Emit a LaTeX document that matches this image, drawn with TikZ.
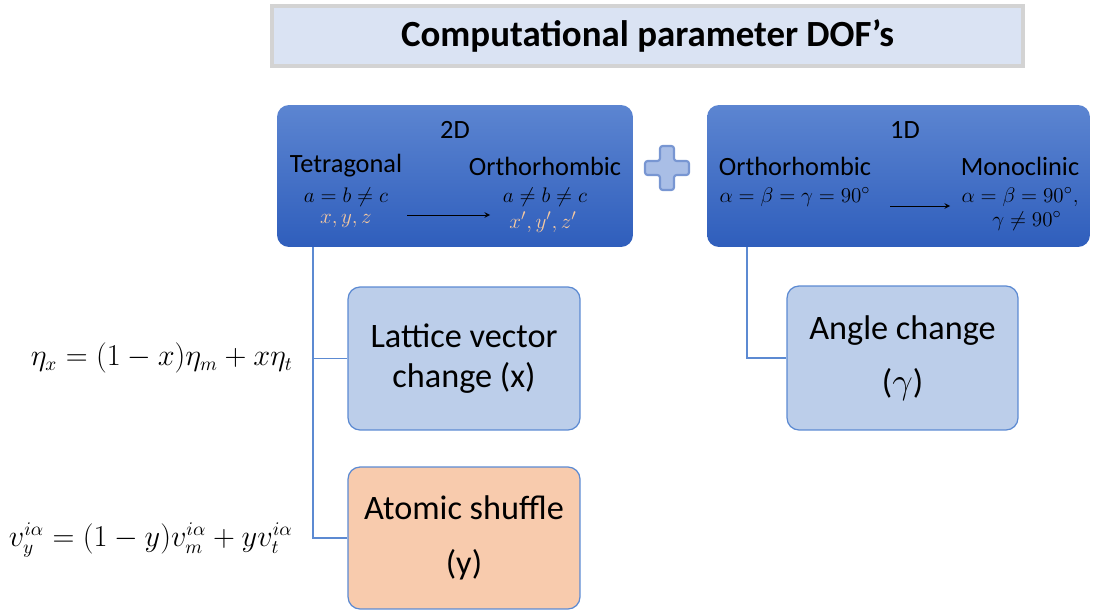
\documentclass[tikz,border=0pt]{standalone}
\usepackage{amsmath}
\usepackage{amssymb}
\usepackage{fontspec}
\setmainfont{Carlito}
\usetikzlibrary{positioning}

\definecolor{titlefill}{HTML}{DAE3F3}
\definecolor{titleline}{HTML}{D3D3D3}
\definecolor{darktop}{HTML}{5C85D1}
\definecolor{darkbot}{HTML}{2F5EBC}
\definecolor{lightfill}{HTML}{BCCEEA}
\definecolor{boxline}{HTML}{5C8AD2}
\definecolor{peach}{HTML}{F8CBAD}
\definecolor{peachtext}{HTML}{F6C9A0}
\definecolor{plusfill}{HTML}{A9BEE6}
\definecolor{plusline}{HTML}{7896D2}

\begin{document}
\begin{tikzpicture}[x=0.02cm, y=-0.02cm, every node/.style={align=center}, >=stealth]
    % styles
    \tikzstyle{title} = [rectangle, draw=titleline, line width=2.2pt, fill=titlefill, minimum width=15.02cm, minimum height=1.2cm, font=\bfseries\fontsize{21}{25}\selectfont]
    \tikzstyle{group} = [rectangle, rounded corners=0.24cm, top color=darktop, bottom color=darkbot, draw=none, minimum height=2.84cm]
    \tikzstyle{head} = [font=\fontsize{15}{18}\selectfont]
    \tikzstyle{relation} = [font=\fontsize{12.5}{15}\selectfont]
    \tikzstyle{dof} = [rectangle, rounded corners=0.24cm, draw=boxline, line width=0.7pt, fill=lightfill, minimum width=4.64cm, minimum height=2.86cm, font=\fontsize{19.5}{23}\selectfont]
    \tikzstyle{formula} = [anchor=east, inner sep=0pt, font=\fontsize{16}{19}\selectfont]
    \tikzstyle{arrow} = [thin, ->]
    \tikzstyle{link} = [draw=boxline, line width=0.6pt]

    \useasboundingbox (0,0) rectangle (1094,611);

    % title
    \node[title] (dofs) at (647.5,36) {Computational parameter DOF's};

    % 2D transformation
    \node[group, minimum width=7.12cm] (twod) at (455,176) {};
    \node[head] (twodlabel) at (455,130) {2D};
    \node[head] (tetra) at (346,166) {Tetragonal};
    \node[head] (orthoA) at (545,166) {Orthorhombic};
    \node[relation] (tetraeq) at (346,197) {$a=b\neq c$};
    \node[relation, text=peachtext] (tetraxyz) at (346,221) {$x,y,z$};
    \node[relation] (orthoAeq) at (545,197) {$a\neq b\neq c$};
    \node[relation, text=peachtext] (orthoAxyz) at (543,222) {$x',y',z'$};
    \coordinate (twostart) at (407,215);
    \coordinate (twoend) at (490,215);
    \draw[arrow] (twostart) -- (twoend);

    % plus sign
    \draw[fill=plusfill, draw=plusline, line width=1.2pt, rounded corners=1.5pt]
        (660,146) -- (674,146) -- (674,161) -- (689,161) -- (689,175) -- (674,175)
        -- (674,190) -- (660,190) -- (660,175) -- (645,175) -- (645,161) -- (660,161) -- cycle;

    % 1D transformation
    \node[group, minimum width=7.66cm] (oned) at (898.5,176) {};
    \node[head] (onedlabel) at (905,130) {1D};
    \node[head] (orthoB) at (795,166) {Orthorhombic};
    \node[head] (mono) at (1020,166) {Monoclinic};
    \node[relation] (orthoBeq) at (795,197) {$\alpha=\beta=\gamma=90^\circ$};
    \node[relation] (monoeq) at (1020,197) {$\alpha=\beta=90^\circ,$};
    \node[relation] (monoeqb) at (1027,221) {$\gamma\neq 90^\circ$};
    \coordinate (onestart) at (890,206);
    \coordinate (oneend) at (950,206);
    \draw[arrow] (onestart) -- (oneend);

    % degrees of freedom
    \node[dof] (lattice) at (464,358.5) {Lattice vector\\change (x)};
    \node[dof, fill=peach, minimum height=2.84cm] (shuffle) at (464,538) {Atomic shuffle\\[8pt](y)};
    \node[dof, minimum width=4.62cm, minimum height=2.88cm] (angle) at (902.5,358) {Angle change\\[8pt]($\gamma$)};

    % formulas
    \node[formula] (etax) at (293,358) {$\eta_x=(1-x)\eta_m+x\eta_t$};
    \node[formula] (vy) at (293,540) {$v_y^{i\alpha}=(1-y)v_m^{i\alpha}+yv_t^{i\alpha}$};

    % connectors
    \coordinate (twotrunk) at (313,247);
    \coordinate (onetrunk) at (747,247);
    \draw[link] (twotrunk) |- (lattice.west);
    \draw[link] (twotrunk) |- (shuffle.west);
    \draw[link] (onetrunk) |- (angle.west);
\end{tikzpicture}
\end{document}
